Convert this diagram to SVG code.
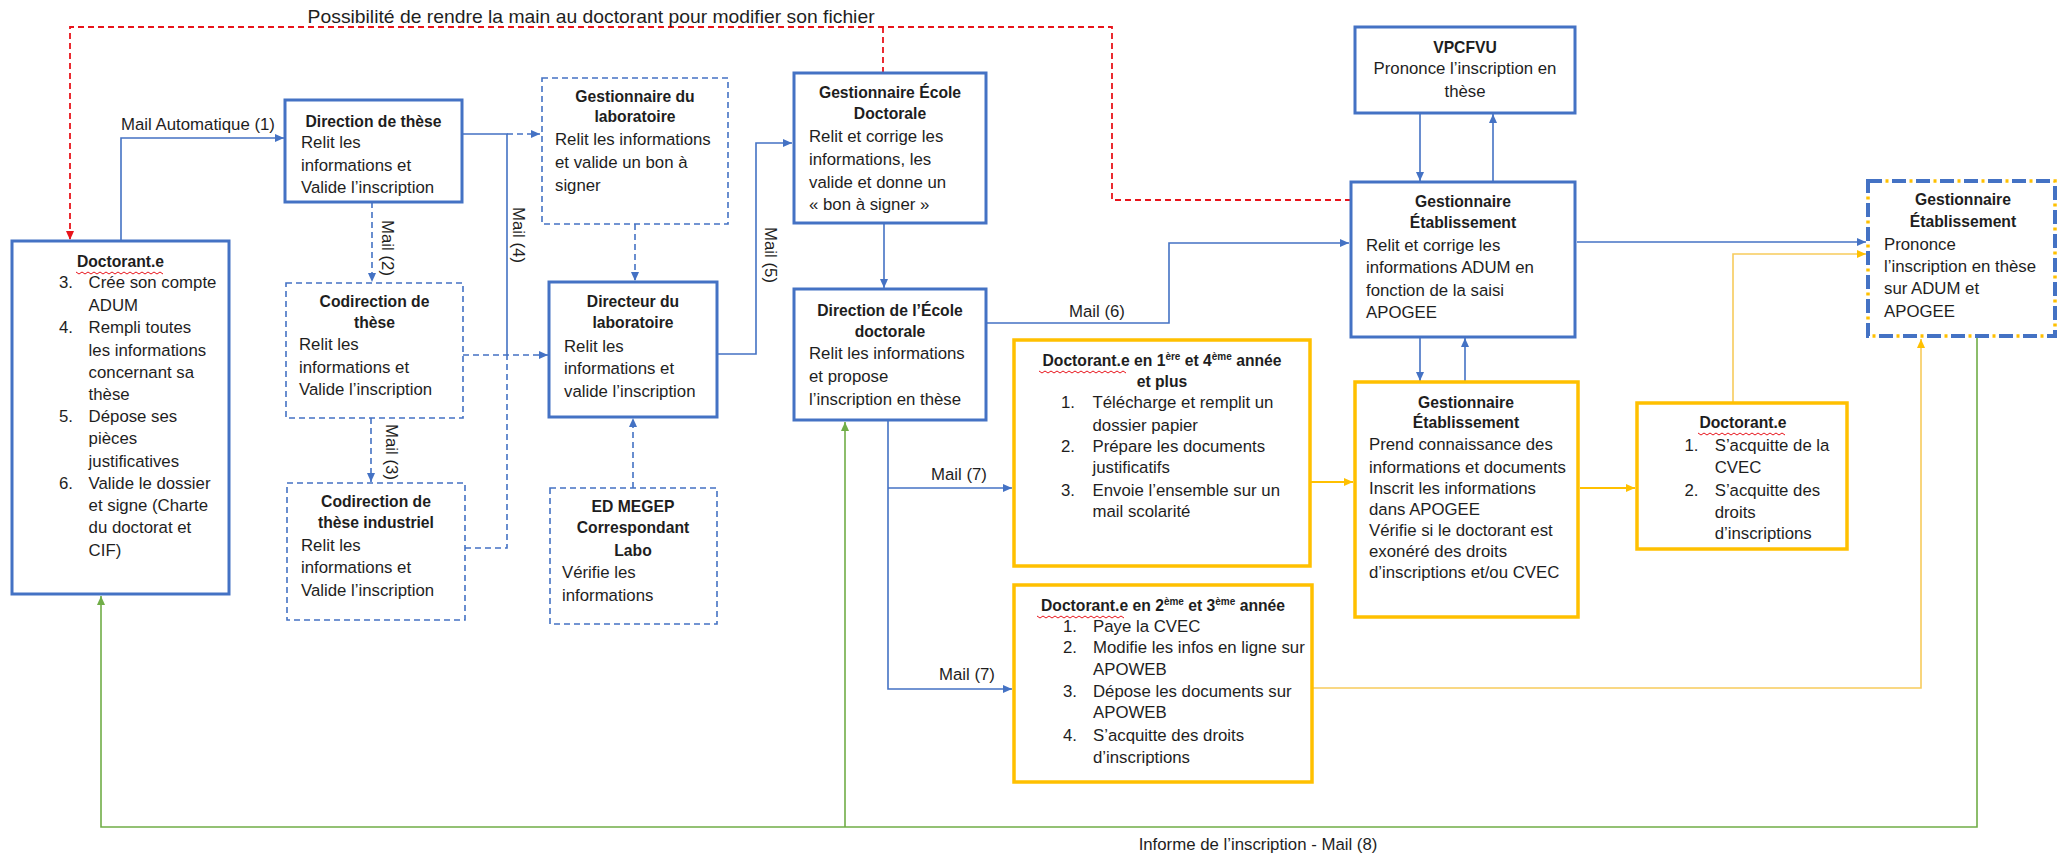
<svg xmlns="http://www.w3.org/2000/svg" width="2067" height="853" viewBox="0 0 2067 853">
<style>
text{font-family:"Liberation Sans",Arial,sans-serif;font-size:16.8px;fill:#1e1e1e}
.b{font-weight:bold;font-size:15.7px}
.m{text-anchor:middle}
.sup{font-size:10px}
.box{fill:#fff;stroke:#4472C4;stroke-width:3}
.dbox{fill:#fff;stroke:#4472C4;stroke-width:1.6;stroke-dasharray:6 4}
.ybox{fill:#fff;stroke:#FFC000;stroke-width:3.5}
.c{fill:none;stroke:#4472C4;stroke-width:1.6}
.cd{fill:none;stroke:#4472C4;stroke-width:1.6;stroke-dasharray:6 4}
.cy{fill:none;stroke:#FFC000;stroke-width:2.2}
.cyl{fill:none;stroke:#F7CB5C;stroke-width:1.6}
.cg{fill:none;stroke:#70AD47;stroke-width:1.6}
.cr{fill:none;stroke:#E8141B;stroke-width:1.8;stroke-dasharray:6 4}
.sq{fill:none;stroke:#E8141B;stroke-width:1}
</style>
<defs>
<marker id="ab" markerUnits="userSpaceOnUse" markerWidth="10" markerHeight="10" refX="9" refY="5" orient="auto"><path d="M0,1 L9,5 L0,9 Z" fill="#4472C4"/></marker>
<marker id="ay" markerUnits="userSpaceOnUse" markerWidth="10" markerHeight="10" refX="9" refY="5" orient="auto"><path d="M0,1 L9,5 L0,9 Z" fill="#FFC000"/></marker>
<marker id="ag" markerUnits="userSpaceOnUse" markerWidth="10" markerHeight="10" refX="9" refY="5" orient="auto"><path d="M0,1 L9,5 L0,9 Z" fill="#70AD47"/></marker>
<marker id="ar" markerUnits="userSpaceOnUse" markerWidth="10" markerHeight="10" refX="9" refY="5" orient="auto"><path d="M0,1 L9,5 L0,9 Z" fill="#E8141B"/></marker>
</defs>
<rect width="2067" height="853" fill="#fff"/>

<g id="connectors">
<path class="cr" d="M1351,200 H1112 V27 H70 V240" marker-end="url(#ar)"/>
<path class="cr" d="M883,73 V27"/>
<path class="c" d="M121,241 V138 H284" marker-end="url(#ab)"/>
<path class="c" d="M462,134 H507 V355"/>
<path class="cd" d="M507,134 H540" marker-end="url(#ab)"/>
<path class="cd" d="M463,355 H548" marker-end="url(#ab)"/>
<path class="cd" d="M465,548 H507 V355"/>
<path class="cd" d="M372,202 V282" marker-end="url(#ab)"/>
<path class="cd" d="M371,418 V482" marker-end="url(#ab)"/>
<path class="cd" d="M635,224 V281" marker-end="url(#ab)"/>
<path class="cd" d="M633,488 V418" marker-end="url(#ab)"/>
<path class="c" d="M717,354 H756 V143 H792" marker-end="url(#ab)"/>
<path class="c" d="M884,223 V288" marker-end="url(#ab)"/>
<path class="c" d="M986,323 H1169 V243 H1349" marker-end="url(#ab)"/>
<path class="c" d="M888,421 V689 H1012" marker-end="url(#ab)"/>
<path class="c" d="M888,488 H1012" marker-end="url(#ab)"/>
<path class="c" d="M1420,113 V181" marker-end="url(#ab)"/>
<path class="c" d="M1493,182 V114" marker-end="url(#ab)"/>
<path class="c" d="M1420,337 V381" marker-end="url(#ab)"/>
<path class="c" d="M1465,382 V338" marker-end="url(#ab)"/>
<path class="c" d="M1577,242 H1866" marker-end="url(#ab)"/>
<path class="cy" d="M1311,482 H1353" marker-end="url(#ay)"/>
<path class="cy" d="M1580,488 H1635" marker-end="url(#ay)"/>
<path class="cyl" d="M1733,403 V254 H1866" marker-end="url(#ay)"/>
<path class="cyl" d="M1312,688 H1921 V339" marker-end="url(#ay)"/>
<path class="cg" d="M1977,337 V827 H101 V596" marker-end="url(#ag)"/>
<path class="cg" d="M845,827 V422" marker-end="url(#ag)"/>
<text x="307.6" y="23" style="font-size:19px" textLength="567" lengthAdjust="spacingAndGlyphs">Possibilité de rendre la main au doctorant pour modifier son fichier</text>
<text class="m" x="198" y="130">Mail Automatique (1)</text>
<text class="m" transform="translate(382,248) rotate(90)">Mail (2)</text>
<text class="m" transform="translate(386,452) rotate(90)">Mail (3)</text>
<text class="m" transform="translate(513,235) rotate(90)">Mail (4)</text>
<text class="m" transform="translate(765,255) rotate(90)">Mail (5)</text>
<text class="m" x="1097" y="317">Mail (6)</text>
<text class="m" x="959" y="480">Mail (7)</text>
<text class="m" x="967" y="680">Mail (7)</text>
<text class="m" x="1258" y="850">Informe de l’inscription - Mail (8)</text>
</g>

<g id="doctorant">
<rect class="box" x="12" y="241" width="217" height="353"/>
<text class="b m" x="120.5" y="267">Doctorant.e</text>
<path class="sq" d="M76,272 l3,2 l3,-2 l3,2 l3,-2 l3,2 l3,-2 l3,2 l3,-2 l3,2 l3,-2 l3,2 l3,-2 l3,2 l3,-2 l3,2 l3,-2 l3,2 l3,-2 l3,2 l3,-2 l3,2 l3,-2 l3,2 l3,-2 l3,2 l3,-2 l3,2 l3,-2 l3,2"/>
<text x="59" y="288">3.</text><text x="88.6" y="288">Crée son compte</text>
<text x="88.6" y="311">ADUM</text>
<text x="59" y="333">4.</text><text x="88.6" y="333">Rempli toutes</text>
<text x="88.6" y="356">les informations</text>
<text x="88.6" y="378">concernant sa</text>
<text x="88.6" y="400">thèse</text>
<text x="59" y="422">5.</text><text x="88.6" y="422">Dépose ses</text>
<text x="88.6" y="444">pièces</text>
<text x="88.6" y="467">justificatives</text>
<text x="59" y="489">6.</text><text x="88.6" y="489">Valide le dossier</text>
<text x="88.6" y="511">et signe (Charte</text>
<text x="88.6" y="533">du doctorat et</text>
<text x="88.6" y="556">CIF)</text>
</g>

<g id="direction-these">
<rect class="box" x="285" y="100" width="177" height="102"/>
<text class="b m" x="373.5" y="127">Direction de thèse</text>
<text x="301" y="148">Relit les</text>
<text x="301" y="170.5">informations et</text>
<text x="301" y="193">Valide l’inscription</text>
</g>

<g id="codirection-these">
<rect class="dbox" x="286" y="283" width="177" height="135"/>
<text class="b m" x="374.5" y="307">Codirection de</text>
<text class="b m" x="374.5" y="328">thèse</text>
<text x="299" y="350">Relit les</text>
<text x="299" y="373">informations et</text>
<text x="299" y="395">Valide l’inscription</text>
</g>

<g id="codirection-industriel">
<rect class="dbox" x="287" y="483" width="178" height="137"/>
<text class="b m" x="376" y="507">Codirection de</text>
<text class="b m" x="376" y="528">thèse industriel</text>
<text x="301" y="551">Relit les</text>
<text x="301" y="573">informations et</text>
<text x="301" y="596">Valide l’inscription</text>
</g>

<g id="gestionnaire-labo">
<rect class="dbox" x="542" y="78" width="186" height="146"/>
<text class="b m" x="635" y="102">Gestionnaire du</text>
<text class="b m" x="635" y="122">laboratoire</text>
<text x="555" y="145">Relit les informations</text>
<text x="555" y="168">et valide un bon à</text>
<text x="555" y="191">signer</text>
</g>

<g id="directeur-labo">
<rect class="box" x="549" y="282" width="168" height="135"/>
<text class="b m" x="633" y="307">Directeur du</text>
<text class="b m" x="633" y="328">laboratoire</text>
<text x="564" y="352">Relit les</text>
<text x="564" y="374">informations et</text>
<text x="564" y="397">valide l’inscription</text>
</g>

<g id="ed-megep">
<rect class="dbox" x="550" y="488" width="167" height="136"/>
<text class="b m" x="633" y="512">ED MEGEP</text>
<text class="b m" x="633" y="533">Correspondant</text>
<text class="b m" x="633" y="556">Labo</text>
<text x="562" y="578">Vérifie les</text>
<text x="562" y="601">informations</text>
</g>

<g id="gestionnaire-ed">
<rect class="box" x="794" y="73" width="192" height="150"/>
<text class="b m" x="890" y="98">Gestionnaire École</text>
<text class="b m" x="890" y="119">Doctorale</text>
<text x="809" y="142">Relit et corrige les</text>
<text x="809" y="165">informations, les</text>
<text x="809" y="188">valide et donne un</text>
<text x="809" y="210">« bon à signer »</text>
</g>

<g id="direction-ed">
<rect class="box" x="794" y="289" width="192" height="131"/>
<text class="b m" x="890" y="316">Direction de l’École</text>
<text class="b m" x="890" y="337">doctorale</text>
<text x="809" y="359">Relit les informations</text>
<text x="809" y="382">et propose</text>
<text x="809" y="405">l’inscription en thèse</text>
</g>

<g id="doctorant-1-4">
<rect class="ybox" x="1014" y="340" width="296" height="226"/>
<text class="b m" x="1162" y="366">Doctorant.e en 1<tspan class="sup" dy="-6">ère</tspan><tspan dy="6"> et 4</tspan><tspan class="sup" dy="-6">ème</tspan><tspan dy="6"> année</tspan></text>
<path class="sq" d="M1039,371 l3,2 l3,-2 l3,2 l3,-2 l3,2 l3,-2 l3,2 l3,-2 l3,2 l3,-2 l3,2 l3,-2 l3,2 l3,-2 l3,2 l3,-2 l3,2 l3,-2 l3,2 l3,-2 l3,2 l3,-2 l3,2 l3,-2 l3,2 l3,-2 l3,2 l3,-2 l3,2"/>
<text class="b m" x="1162" y="387">et plus</text>
<text x="1061" y="408">1.</text><text x="1092.5" y="408">Télécharge et remplit un</text>
<text x="1092.5" y="431">dossier papier</text>
<text x="1061" y="452">2.</text><text x="1092.5" y="452">Prépare les documents</text>
<text x="1092.5" y="473">justificatifs</text>
<text x="1061" y="496">3.</text><text x="1092.5" y="496">Envoie l’ensemble sur un</text>
<text x="1092.5" y="517">mail scolarité</text>
</g>

<g id="doctorant-2-3">
<rect class="ybox" x="1014" y="585" width="298" height="197"/>
<text class="b m" x="1163" y="611">Doctorant.e en 2<tspan class="sup" dy="-6">ème</tspan><tspan dy="6"> et 3</tspan><tspan class="sup" dy="-6">ème</tspan><tspan dy="6"> année</tspan></text>
<path class="sq" d="M1037,616 l3,2 l3,-2 l3,2 l3,-2 l3,2 l3,-2 l3,2 l3,-2 l3,2 l3,-2 l3,2 l3,-2 l3,2 l3,-2 l3,2 l3,-2 l3,2 l3,-2 l3,2 l3,-2 l3,2 l3,-2 l3,2 l3,-2 l3,2 l3,-2 l3,2 l3,-2 l3,2"/>
<text x="1063" y="632">1.</text><text x="1093" y="632">Paye la CVEC</text>
<text x="1063" y="653">2.</text><text x="1093" y="653">Modifie les infos en ligne sur</text>
<text x="1093" y="675">APOWEB</text>
<text x="1063" y="697">3.</text><text x="1093" y="697">Dépose les documents sur</text>
<text x="1093" y="718">APOWEB</text>
<text x="1063" y="741">4.</text><text x="1093" y="741">S’acquitte des droits</text>
<text x="1093" y="763">d’inscriptions</text>
</g>

<g id="vpcfvu">
<rect class="box" x="1355" y="27" width="220" height="86"/>
<text class="b m" x="1465" y="53">VPCFVU</text>
<text class="m" x="1465" y="74">Prononce l’inscription en</text>
<text class="m" x="1465" y="97">thèse</text>
</g>

<g id="gestionnaire-etablissement-1">
<rect class="box" x="1351" y="182" width="224" height="155"/>
<text class="b m" x="1463" y="207">Gestionnaire</text>
<text class="b m" x="1463" y="228">Établissement</text>
<text x="1366" y="251">Relit et corrige les</text>
<text x="1366" y="273">informations ADUM en</text>
<text x="1366" y="296">fonction de la saisi</text>
<text x="1366" y="318">APOGEE</text>
</g>

<g id="gestionnaire-etablissement-2">
<rect class="ybox" x="1355" y="382" width="223" height="235"/>
<text class="b m" x="1466" y="408">Gestionnaire</text>
<text class="b m" x="1466" y="428">Établissement</text>
<text x="1369" y="450">Prend connaissance des</text>
<text x="1369" y="473">informations et documents</text>
<text x="1369" y="494">Inscrit les informations</text>
<text x="1369" y="515">dans APOGEE</text>
<text x="1369" y="536">Vérifie si le doctorant est</text>
<text x="1369" y="557">exonéré des droits</text>
<text x="1369" y="578">d’inscriptions et/ou CVEC</text>
</g>

<g id="doctorant-final">
<rect class="ybox" x="1637" y="403" width="210" height="146"/>
<text class="b m" x="1743" y="428">Doctorant.e</text>
<path class="sq" d="M1698,433 l3,2 l3,-2 l3,2 l3,-2 l3,2 l3,-2 l3,2 l3,-2 l3,2 l3,-2 l3,2 l3,-2 l3,2 l3,-2 l3,2 l3,-2 l3,2 l3,-2 l3,2 l3,-2 l3,2 l3,-2 l3,2 l3,-2 l3,2 l3,-2 l3,2 l3,-2 l3,2"/>
<text x="1684.5" y="451">1.</text><text x="1714.7" y="451">S’acquitte de la</text>
<text x="1714.7" y="473">CVEC</text>
<text x="1684.5" y="496">2.</text><text x="1714.7" y="496">S’acquitte des</text>
<text x="1714.7" y="518">droits</text>
<text x="1714.7" y="539">d’inscriptions</text>
</g>

<g id="gestionnaire-etablissement-final">
<rect x="1868" y="181" width="187" height="155" fill="#fff" stroke="#FFC000" stroke-width="3.5" stroke-dasharray="3 21" stroke-dashoffset="6.5"/>
<rect x="1868" y="181" width="187" height="155" fill="none" stroke="#4472C4" stroke-width="4" stroke-dasharray="14 10"/>
<text class="b m" x="1963" y="205">Gestionnaire</text>
<text class="b m" x="1963" y="227">Établissement</text>
<text x="1884" y="250">Prononce</text>
<text x="1884" y="272">l’inscription en thèse</text>
<text x="1884" y="294">sur ADUM et</text>
<text x="1884" y="317">APOGEE</text>
</g>
</svg>
